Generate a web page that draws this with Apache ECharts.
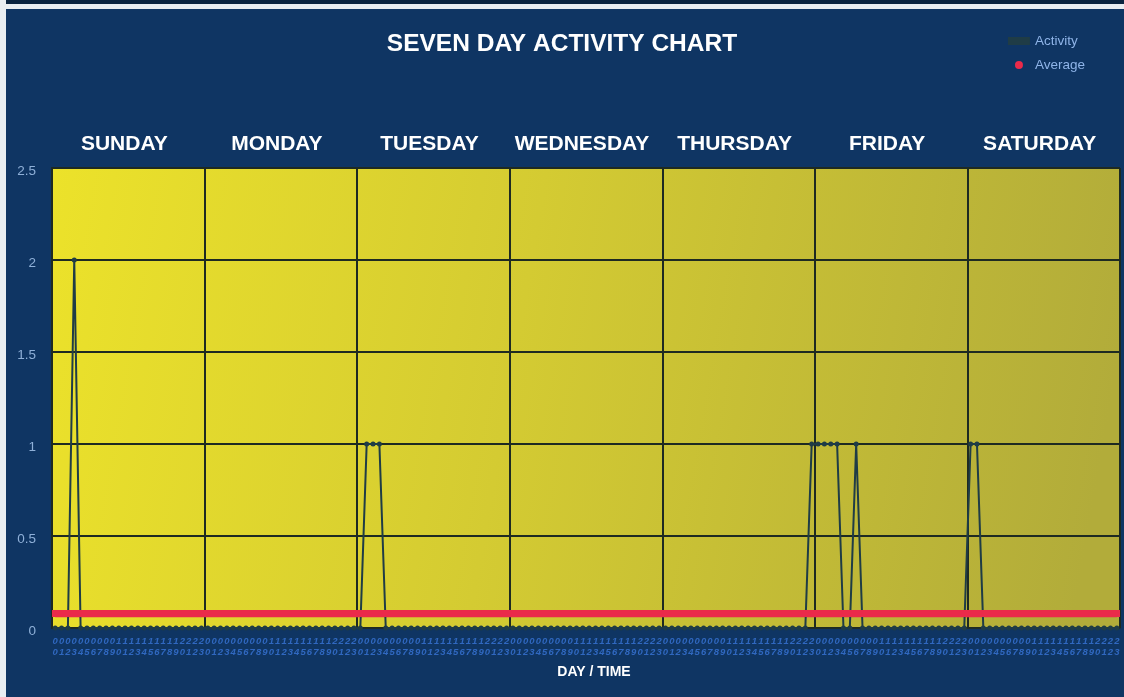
<!DOCTYPE html>
<html>
<head>
<meta charset="utf-8">
<script src="https://cdn.jsdelivr.net/npm/echarts@6/dist/echarts.min.js"></script>
<style>
html,body{margin:0;padding:0;background:#0f3563;}
#chart{width:1124px;height:697px;}
</style>
</head>
<body>
<div id="chart"></div>
<script>
const days = ['SUNDAY','MONDAY','TUESDAY','WEDNESDAY','THURSDAY','FRIDAY','SATURDAY'];
const dayShort = ['Sun','Mon','Tue','Wed','Thu','Fri','Sat'];
const hours = ['00','01','02','03','04','05','06','07','08','09','10','11',
               '12','13','14','15','16','17','18','19','20','21','22','23'];
const yTicks = [0, 0.5, 1, 1.5, 2, 2.5];

// Activity per hour, one array per day
const sunday    = [0,0,0,2,0,0,0,0,0,0,0,0,0,0,0,0,0,0,0,0,0,0,0,0];
const monday    = [0,0,0,0,0,0,0,0,0,0,0,0,0,0,0,0,0,0,0,0,0,0,0,0];
const tuesday   = [0,1,1,1,0,0,0,0,0,0,0,0,0,0,0,0,0,0,0,0,0,0,0,0];
const wednesday = [0,0,0,0,0,0,0,0,0,0,0,0,0,0,0,0,0,0,0,0,0,0,0,0];
const thursday  = [0,0,0,0,0,0,0,0,0,0,0,0,0,0,0,0,0,0,0,0,0,0,0,1];
const friday    = [1,1,1,1,0,0,1,0,0,0,0,0,0,0,0,0,0,0,0,0,0,0,0,0];
const saturday  = [1,1,0,0,0,0,0,0,0,0,0,0,0,0,0,0,0,0,0,0,0,0,0,0];
const averageLevel = 0.077;

const weekActivity = [].concat(sunday, monday, tuesday, wednesday, thursday, friday, saturday);
const timeCategories = [];
dayShort.forEach(d => hours.forEach(h => timeCategories.push(d + ' ' + h)));
const averageData = timeCategories.map(() => averageLevel);

const FONT = 'Liberation Sans, Arial, sans-serif';
const chart = echarts.init(document.getElementById('chart'));
chart.setOption({
  backgroundColor: '#0f3563',
  animation: false,
  graphic: [
    {type:'rect', left:0, top:0, shape:{width:1124, height:4}, style:{fill:'#0a2440'}, silent:true},
    {type:'rect', left:0, top:4, shape:{width:1124, height:5}, style:{fill:'#e9eef2'}, silent:true},
    {type:'rect', left:0, top:0, shape:{width:6, height:697}, style:{fill:'#e9eef2'}, silent:true}
  ],
  title: {
    text: 'SEVEN DAY ACTIVITY CHART',
    left: 'center',
    top: 27,
    textStyle: {color:'#ffffff', fontSize:24.5, fontWeight:'bold', fontFamily:FONT}
  },
  legend: {
    orient: 'vertical',
    right: 34,
    top: 29,
    itemGap: 10,
    itemWidth: 22,
    itemHeight: 8,
    textStyle: {color:'#8fb4e8', fontSize:13.5, fontFamily:FONT},
    data: [
      {name:'Activity', icon:'rect'},
      {name:'Average', icon:'circle'}
    ]
  },
  grid: {
    left: 52, right: 4, top: 168, bottom: 69,
    show: true,
    borderWidth: 0,
    backgroundColor: {
      type:'linear', x:0, y:0, x2:1, y2:0.4,
      colorStops:[
        {offset:0, color:'#ece22a'},
        {offset:0.45, color:'#d4cb32'},
        {offset:1, color:'#b2ac3a'}
      ]
    }
  },
  xAxis: [
    {
      type: 'category',
      data: timeCategories,
      boundaryGap: true,
      position: 'bottom',
      axisLine: {show:true, lineStyle:{color:'#1d2d2a', width:1}},
      axisTick: {show:false},
      axisLabel: {
        interval: 0,
        rotate: 0,
        fontSize: 9.5,
        lineHeight: 11,
        fontWeight: 'bold',
        fontStyle: 'italic',
        margin: 8,
        color: '#3068c0',
        fontFamily: FONT,
        formatter: v => { const h = v.split(' ')[1]; return h[0] + '\n' + h[1]; }
      },
      splitLine: {show:false},
      name: 'DAY / TIME',
      nameLocation: 'middle',
      nameGap: 37,
      nameTextStyle: {color:'#ffffff', fontSize:14, fontWeight:'bold', fontFamily:FONT, padding:[0,0,0,16]}
    },
    {
      type: 'category',
      data: days,
      boundaryGap: true,
      position: 'top',
      axisLine: {show:false},
      axisTick: {show:false},
      axisLabel: {
        interval: 0,
        margin: 13,
        color: '#ffffff',
        fontSize: 21,
        fontWeight: 'bold',
        fontFamily: FONT,
        padding: [0, 8, 0, 0]
      },
      splitLine: {show:true, interval:0, lineStyle:{color:'#1e2a22', width:2}}
    }
  ],
  yAxis: {
    type: 'value',
    min: 0,
    max: 2.5,
    interval: 0.5,
    axisLine: {show:true, lineStyle:{color:'#1e2a22', width:2}},
    axisTick: {show:false},
    axisLabel: {
      color: '#8fb0d8',
      fontSize: 13.5,
      margin: 16,
      verticalAlign: 'top',
      padding: [-4, 0, 0, 0],
      fontFamily: FONT,
      formatter: v => yTicks.indexOf(v) >= 0 ? String(v) : ''
    },
    splitLine: {show:true, lineStyle:{color:'#1e2a22', width:2}}
  },
  series: [
    {
      name: 'Average',
      type: 'line',
      xAxisIndex: 0,
      data: averageData,
      showSymbol: false,
      symbol: 'circle',
      lineStyle: {color:'#ea2a4a', width:7},
      itemStyle: {color:'#ea2a4a'},
      markLine: {
        silent: true,
        symbol: 'none',
        label: {show:false},
        lineStyle: {color:'#ea2a4a', width:7, type:'solid'},
        data: [{yAxis: averageLevel}]
      },
      z: 2
    },
    {
      name: 'Activity',
      type: 'line',
      xAxisIndex: 0,
      data: weekActivity,
      symbol: 'circle',
      symbolSize: 5,
      showAllSymbol: true,
      lineStyle: {color:'#1f3c46', width:2},
      itemStyle: {color:'#1f3c46'},
      z: 3
    }
  ]
});
</script>
</body>
</html>
